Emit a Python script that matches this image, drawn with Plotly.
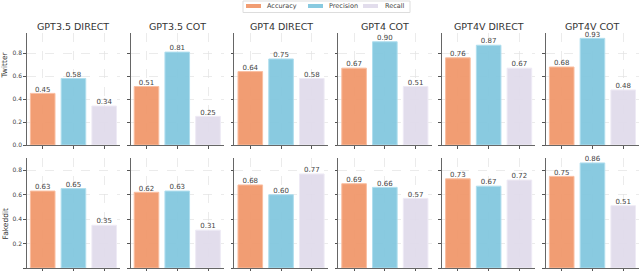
import plotly.graph_objects as go
from plotly.subplots import make_subplots

models = ["GPT3.5 DIRECT", "GPT3.5 COT", "GPT4 DIRECT", "GPT4 COT", "GPT4V DIRECT", "GPT4V COT"]
datasets = ["Twitter", "Fakeddit"]
metrics = ["Accuracy", "Precision", "Recall"]

twitter_accuracy = [0.45, 0.51, 0.64, 0.67, 0.76, 0.68]
twitter_precision = [0.58, 0.81, 0.75, 0.90, 0.87, 0.93]
twitter_recall = [0.34, 0.25, 0.58, 0.51, 0.67, 0.48]

fakeddit_accuracy = [0.63, 0.62, 0.68, 0.69, 0.73, 0.75]
fakeddit_precision = [0.65, 0.63, 0.60, 0.66, 0.67, 0.86]
fakeddit_recall = [0.35, 0.31, 0.77, 0.57, 0.72, 0.51]

data = {
    "Twitter": [twitter_accuracy, twitter_precision, twitter_recall],
    "Fakeddit": [fakeddit_accuracy, fakeddit_precision, fakeddit_recall],
}
y_ticks = [0.0, 0.2, 0.4, 0.6, 0.8]

colors = ["rgba(240,150,104,0.93)", "rgba(128,198,222,0.93)", "rgba(224,218,235,0.93)"]
edge = ["rgba(250,190,160,1)", "rgba(175,222,238,1)", "rgba(238,234,245,1)"]

W, H = 640, 271
FONT = "DejaVu Sans"

fig = make_subplots(rows=2, cols=6)

col_left = [26.7 + 103.8 * k for k in range(6)]
col_w = 93.5
row_dom = [(33, 145), (157.7, 268)]

for r, ds in enumerate(datasets):
    series = data[ds]
    ymax = max(max(s) for s in series) * 1.05
    for c, m in enumerate(models):
        for i, met in enumerate(metrics):
            v = series[i][c]
            fig.add_trace(go.Bar(
                x=[i], y=[v], width=0.8, name=met,
                marker=dict(color=colors[i], line=dict(color=edge[i], width=1)),
                showlegend=False, hoverinfo="skip",
            ), row=r + 1, col=c + 1)
        fig.add_trace(go.Scatter(
            x=[0, 1, 2], y=[series[i][c] for i in range(3)],
            mode="text", text=[f"{series[i][c]:.2f}" for i in range(3)],
            textposition="top center",
            textfont=dict(family=FONT, size=7, color="#444"),
            cliponaxis=False, showlegend=False, hoverinfo="skip",
        ), row=r + 1, col=c + 1)
        idx = r * 6 + c + 1
        xs = "xaxis" if idx == 1 else f"xaxis{idx}"
        ys = "yaxis" if idx == 1 else f"yaxis{idx}"
        t, b = row_dom[r]
        fig.layout[xs].update(
            domain=[col_left[c] / W, (col_left[c] + col_w) / W],
            range=[-0.52, 2.52], tickvals=[0, 1, 2], showticklabels=False,
            ticks="outside", ticklen=2.5, tickcolor="#555", tickwidth=1,
            showline=True, linecolor="#666", linewidth=1,
            showgrid=True, gridcolor="#e2e2e2", griddash="dash", gridwidth=0.7,
            zeroline=False, fixedrange=True, automargin=False,
        )
        fig.layout[ys].update(
            domain=[1 - b / H, 1 - t / H],
            range=[0, ymax], tickvals=y_ticks,
            ticktext=[f"{v:.1f}" for v in y_ticks],
            showticklabels=(c == 0),
            tickfont=dict(family=FONT, size=6, color="#444"),
            ticks="outside", ticklen=2.5, tickcolor="#555", tickwidth=1,
            showline=True, linecolor="#666", linewidth=1,
            showgrid=True, gridcolor="#e2e2e2", griddash="dash", gridwidth=0.7,
            zeroline=False, fixedrange=True, automargin=False,
        )
        if r == 0:
            fig.add_annotation(
                text=m, xref="paper", yref="paper",
                x=(col_left[c] + col_w / 2) / W, y=1 - 27 / H,
                showarrow=False, xanchor="center", yanchor="middle",
                font=dict(family=FONT, size=9.5, color="#333"),
            )

for ds, yc in zip(datasets, [65, 224]):
    fig.add_annotation(
        text=ds, xref="paper", yref="paper", x=4.5 / W, y=1 - yc / H,
        showarrow=False, textangle=-90, xanchor="center", yanchor="middle",
        font=dict(family=FONT, size=7.5, color="#333"),
    )

# legend drawn as a boxed key at top centre
legend_box = (243, 1, 410, 12.5)
legend_items = [(246, 265), (308, 327), (363, 381)]  # (patch left, text left) in px
fig.add_shape(type="rect", xref="paper", yref="paper",
              x0=legend_box[0] / W, x1=legend_box[2] / W,
              y0=1 - legend_box[3] / H, y1=1 - legend_box[1] / H,
              line=dict(color="#dddddd", width=1), fillcolor="white", layer="above")
for (pl, tl), met, col in zip(legend_items, metrics, colors):
    fig.add_shape(type="rect", xref="paper", yref="paper",
                  x0=pl / W, x1=(pl + 15) / W, y0=1 - 8 / H, y1=1 - 4 / H,
                  line=dict(width=0), fillcolor=col, layer="above")
    fig.add_annotation(text=met, xref="paper", yref="paper",
                       x=tl / W if met != "Recall" else 407 / W, y=1 - 6 / H,
                       xanchor="left" if met != "Recall" else "right", yanchor="middle",
                       showarrow=False,
                       font=dict(family=FONT, size=6.5, color="#444"))

fig.update_layout(
    width=W, height=H,
    margin=dict(l=0, r=0, t=0, b=0),
    paper_bgcolor="white", plot_bgcolor="white",
    barmode="overlay", showlegend=False,
    font=dict(family=FONT),
)

fig.write_html(
    "out.html",
    config={"displayModeBar": False, "staticPlot": True},
    post_script="document.body.style.margin='0';document.body.style.overflow='hidden';",
)
